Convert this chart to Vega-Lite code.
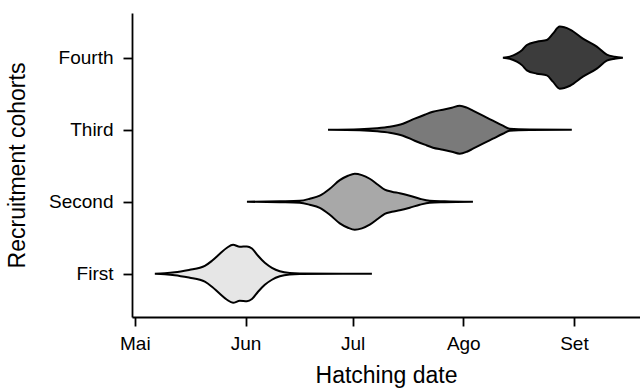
{
  "$schema": "https://vega.github.io/schema/vega-lite/v6.json",
  "width": 508,
  "height": 304,
  "autosize": {"type": "none"},
  "padding": {"left": 132, "top": 13, "right": 0, "bottom": 73},
  "background": "white",
  "config": {
    "view": {"stroke": null},
    "font": "Liberation Sans",
    "axis": {
      "grid": false,
      "domainColor": "black",
      "domainWidth": 1.8,
      "tickColor": "black",
      "tickWidth": 1.8,
      "tickSize": 9,
      "labelColor": "black",
      "labelFont": "Liberation Sans",
      "labelFontSize": 19,
      "titleColor": "black",
      "titleFont": "Liberation Sans",
      "titleFontSize": 23,
      "titleFontWeight": "normal"
    }
  },
  "data": {
    "values": [
      {"cohort": "First", "day": 126.6, "lo": 1, "hi": 1},
      {"cohort": "First", "day": 129.4, "lo": 0.993, "hi": 1.007},
      {"cohort": "First", "day": 132.2, "lo": 0.98, "hi": 1.02},
      {"cohort": "First", "day": 136.4, "lo": 0.945, "hi": 1.055},
      {"cohort": "First", "day": 139.2, "lo": 0.917, "hi": 1.083},
      {"cohort": "First", "day": 140.6, "lo": 0.89, "hi": 1.11},
      {"cohort": "First", "day": 142.6, "lo": 0.82, "hi": 1.18},
      {"cohort": "First", "day": 144.8, "lo": 0.722, "hi": 1.278},
      {"cohort": "First", "day": 146.8, "lo": 0.639, "hi": 1.361},
      {"cohort": "First", "day": 148.5, "lo": 0.597, "hi": 1.403},
      {"cohort": "First", "day": 150.4, "lo": 0.625, "hi": 1.375},
      {"cohort": "First", "day": 152.4, "lo": 0.62, "hi": 1.38},
      {"cohort": "First", "day": 153.8, "lo": 0.65, "hi": 1.35},
      {"cohort": "First", "day": 155.5, "lo": 0.75, "hi": 1.25},
      {"cohort": "First", "day": 157.4, "lo": 0.847, "hi": 1.153},
      {"cohort": "First", "day": 159.4, "lo": 0.917, "hi": 1.083},
      {"cohort": "First", "day": 161.6, "lo": 0.965, "hi": 1.035},
      {"cohort": "First", "day": 164.4, "lo": 0.99, "hi": 1.01},
      {"cohort": "First", "day": 167.2, "lo": 0.996, "hi": 1.004},
      {"cohort": "First", "day": 187.4, "lo": 1, "hi": 1},

      {"cohort": "Second", "day": 152.4, "lo": 2, "hi": 2},
      {"cohort": "Second", "day": 161.6, "lo": 1.993, "hi": 2.007},
      {"cohort": "Second", "day": 167.2, "lo": 1.986, "hi": 2.014},
      {"cohort": "Second", "day": 170.0, "lo": 1.958, "hi": 2.042},
      {"cohort": "Second", "day": 172.8, "lo": 1.915, "hi": 2.085},
      {"cohort": "Second", "day": 175.6, "lo": 1.82, "hi": 2.18},
      {"cohort": "Second", "day": 178.4, "lo": 1.7, "hi": 2.3},
      {"cohort": "Second", "day": 180.7, "lo": 1.639, "hi": 2.361},
      {"cohort": "Second", "day": 182.6, "lo": 1.611, "hi": 2.389},
      {"cohort": "Second", "day": 184.6, "lo": 1.63, "hi": 2.37},
      {"cohort": "Second", "day": 186.8, "lo": 1.681, "hi": 2.319},
      {"cohort": "Second", "day": 189.1, "lo": 1.764, "hi": 2.236},
      {"cohort": "Second", "day": 191.0, "lo": 1.833, "hi": 2.167},
      {"cohort": "Second", "day": 193.0, "lo": 1.861, "hi": 2.139},
      {"cohort": "Second", "day": 195.2, "lo": 1.882, "hi": 2.118},
      {"cohort": "Second", "day": 198.0, "lo": 1.917, "hi": 2.083},
      {"cohort": "Second", "day": 200.8, "lo": 1.958, "hi": 2.042},
      {"cohort": "Second", "day": 203.6, "lo": 1.986, "hi": 2.014},
      {"cohort": "Second", "day": 207.8, "lo": 1.993, "hi": 2.007},
      {"cohort": "Second", "day": 215.7, "lo": 2, "hi": 2},

      {"cohort": "Third", "day": 175.1, "lo": 3, "hi": 3},
      {"cohort": "Third", "day": 184.0, "lo": 2.993, "hi": 3.007},
      {"cohort": "Third", "day": 188.8, "lo": 2.979, "hi": 3.021},
      {"cohort": "Third", "day": 192.4, "lo": 2.958, "hi": 3.042},
      {"cohort": "Third", "day": 196.1, "lo": 2.917, "hi": 3.083},
      {"cohort": "Third", "day": 199.4, "lo": 2.847, "hi": 3.153},
      {"cohort": "Third", "day": 202.2, "lo": 2.792, "hi": 3.208},
      {"cohort": "Third", "day": 204.5, "lo": 2.75, "hi": 3.25},
      {"cohort": "Third", "day": 207.3, "lo": 2.722, "hi": 3.278},
      {"cohort": "Third", "day": 209.8, "lo": 2.694, "hi": 3.306},
      {"cohort": "Third", "day": 212.0, "lo": 2.667, "hi": 3.333},
      {"cohort": "Third", "day": 214.0, "lo": 2.694, "hi": 3.306},
      {"cohort": "Third", "day": 215.7, "lo": 2.736, "hi": 3.264},
      {"cohort": "Third", "day": 218.5, "lo": 2.806, "hi": 3.194},
      {"cohort": "Third", "day": 221.3, "lo": 2.875, "hi": 3.125},
      {"cohort": "Third", "day": 224.1, "lo": 2.944, "hi": 3.056},
      {"cohort": "Third", "day": 226.0, "lo": 2.986, "hi": 3.014},
      {"cohort": "Third", "day": 231.6, "lo": 2.996, "hi": 3.004},
      {"cohort": "Third", "day": 243.4, "lo": 3, "hi": 3},

      {"cohort": "Fourth", "day": 224.1, "lo": 4, "hi": 4},
      {"cohort": "Fourth", "day": 226.0, "lo": 3.986, "hi": 4.014},
      {"cohort": "Fourth", "day": 228.0, "lo": 3.944, "hi": 4.056},
      {"cohort": "Fourth", "day": 229.5, "lo": 3.893, "hi": 4.107},
      {"cohort": "Fourth", "day": 230.8, "lo": 3.824, "hi": 4.176},
      {"cohort": "Fourth", "day": 233.6, "lo": 3.778, "hi": 4.222},
      {"cohort": "Fourth", "day": 236.4, "lo": 3.754, "hi": 4.246},
      {"cohort": "Fourth", "day": 238.1, "lo": 3.667, "hi": 4.333},
      {"cohort": "Fourth", "day": 240.0, "lo": 3.569, "hi": 4.431},
      {"cohort": "Fourth", "day": 242.9, "lo": 3.61, "hi": 4.39},
      {"cohort": "Fourth", "day": 246.5, "lo": 3.736, "hi": 4.264},
      {"cohort": "Fourth", "day": 250.4, "lo": 3.847, "hi": 4.153},
      {"cohort": "Fourth", "day": 253.2, "lo": 3.958, "hi": 4.042},
      {"cohort": "Fourth", "day": 255.4, "lo": 3.986, "hi": 4.014},
      {"cohort": "Fourth", "day": 257.7, "lo": 4, "hi": 4}
    ]
  },
  "mark": {
    "type": "area",
    "orient": "vertical",
    "interpolate": "monotone",
    "stroke": "black",
    "strokeWidth": 2,
    "fillOpacity": 1
  },
  "encoding": {
    "x": {
      "field": "day",
      "type": "quantitative",
      "scale": {"domain": [120.2, 262.5], "nice": false, "zero": false},
      "axis": {
        "title": "Hatching date",
        "values": [121, 152, 182, 213, 244],
        "labelExpr": "datum.value == 121 ? 'Mai' : datum.value == 152 ? 'Jun' : datum.value == 182 ? 'Jul' : datum.value == 213 ? 'Ago' : 'Set'",
        "labelPadding": 8,
        "titlePadding": 11
      }
    },
    "y": {
      "field": "hi",
      "type": "quantitative",
      "scale": {"domain": [0.4, 4.62], "nice": false, "zero": false},
      "axis": {
        "title": "Recruitment cohorts",
        "values": [1, 2, 3, 4],
        "labelExpr": "datum.value == 1 ? 'First' : datum.value == 2 ? 'Second' : datum.value == 3 ? 'Third' : 'Fourth'",
        "labelPadding": 10,
        "titlePadding": 19
      }
    },
    "y2": {"field": "lo"},
    "color": {
      "field": "cohort",
      "type": "nominal",
      "scale": {
        "domain": ["First", "Second", "Third", "Fourth"],
        "range": ["#e6e6e6", "#a8a8a8", "#7a7a7a", "#3c3c3c"]
      },
      "legend": null
    }
  }
}
